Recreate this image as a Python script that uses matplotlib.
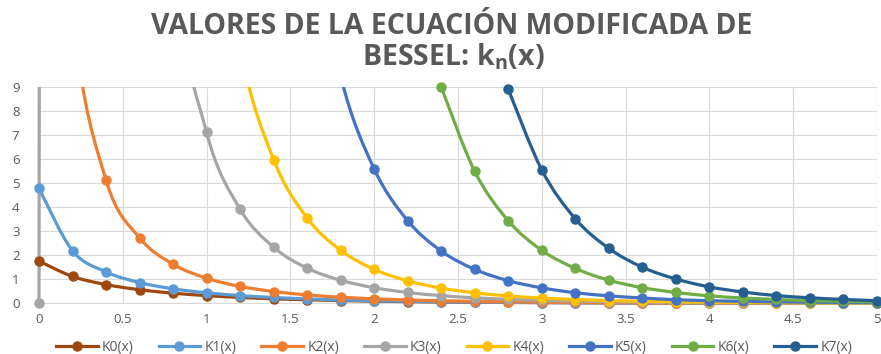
import matplotlib
matplotlib.use("Agg")
import matplotlib.pyplot as plt
import numpy as np
from matplotlib.path import Path
from matplotlib.patches import PathPatch, Rectangle
from matplotlib.lines import Line2D

plt.rcParams['font.family'] = ['Open Sans', 'DejaVu Sans']
plt.rcParams['mathtext.fontset'] = 'custom'
plt.rcParams['mathtext.rm'] = 'Open Sans:bold'
plt.rcParams['mathtext.it'] = 'Open Sans:bold'

nan = np.nan
x = [0, 0.2, 0.4, 0.6, 0.8, 1.0, 1.2, 1.4, 1.6, 1.8, 2.0, 2.2, 2.4,
     2.6, 2.8, 3.0, 3.2, 3.4, 3.6, 3.8, 4.0, 4.2, 4.4, 4.6, 4.8, 5.0]

k0 = [1.753, 1.115, 0.778, 0.565, 0.421, 0.319, 0.244, 0.188, 0.146, 0.114, 0.089, 0.070, 0.055,
      0.044, 0.035, 0.028, 0.022, 0.018, 0.014, 0.011, 0.009, 0.007, 0.006, 0.005, 0.004, 0.003]
k1 = [4.776, 2.184, 1.303, 0.862, 0.602, 0.435, 0.321, 0.241, 0.183, 0.140, 0.108, 0.084, 0.065,
      0.051, 0.040, 0.032, 0.025, 0.020, 0.016, 0.012, 0.010, 0.008, 0.006, 0.005, 0.004, 0.003]
k2 = [30.0, 12.04, 5.12, 2.72, 1.625, 1.043, 0.702, 0.489, 0.349, 0.254, 0.187, 0.140, 0.106,
      0.080, 0.062, 0.047, 0.037, 0.029, 0.022, 0.017, 0.014, 0.011, 0.0085, 0.0067, 0.0053, 0.0042]
k3 = [0, 995, 122.6, 35.4, 14.46, 7.10, 3.91, 2.33, 1.46, 0.958, 0.647, 0.449, 0.317,
      0.228, 0.166, 0.122, 0.091, 0.068, 0.052, 0.039, 0.030, 0.023, 0.018, 0.014, 0.011, 0.008]
k4 = [nan, nan, nan, nan, 44.2, 20.6, 10.67, 5.97, 3.54, 2.20, 1.41, 0.933, 0.631,
      0.436, 0.306, 0.218, 0.157, 0.114, 0.084, 0.062, 0.047, 0.035, 0.026, 0.020, 0.015, 0.012]
k5 = [nan, nan, nan, nan, nan, nan, nan, 31.3, 16.7, 9.43, 5.58, 3.43, 2.17,
      1.41, 0.94, 0.64, 0.44, 0.31, 0.22, 0.15, 0.11, 0.081, 0.060, 0.044, 0.033, 0.025]
k6 = [nan, nan, nan, nan, nan, nan, nan, nan, nan, nan, nan, nan, 8.98,
      5.48, 3.43, 2.20, 1.45, 0.96, 0.65, 0.45, 0.31, 0.22, 0.16, 0.11, 0.081, 0.059]
k7 = [nan, nan, nan, nan, nan, nan, nan, nan, nan, nan, nan, nan, nan,
      nan, 8.89, 5.54, 3.51, 2.28, 1.50, 1.01, 0.68, 0.47, 0.32, 0.23, 0.16, 0.11]

series = [k0, k1, k2, k3, k4, k5, k6, k7]
labels = ['K0(x)', 'K1(x)', 'K2(x)', 'K3(x)', 'K4(x)', 'K5(x)', 'K6(x)', 'K7(x)']
colors = ['#9E480E', '#5B9BD5', '#ED7D31', '#A5A5A5', '#FFC000', '#4472C4', '#70AD47', '#255E91']


def smooth_path(xs, ys):
    # bezier through the points, like the smoothed line of a spreadsheet
    p = np.column_stack([xs, ys])
    n = len(p)
    verts = [p[0]]
    codes = [Path.MOVETO]
    for i in range(n - 1):
        p0 = p[max(i - 1, 0)]
        p1 = p[i]
        p2 = p[i + 1]
        p3 = p[min(i + 2, n - 1)]
        verts += [p1 + (p2 - p0) / 6, p2 - (p3 - p1) / 6, p2]
        codes += [Path.CURVE4] * 3
    return Path(verts, codes)


fig = plt.figure(figsize=(8.81, 3.54), dpi=100)
ax = fig.add_axes([39 / 881, 1 - 303.3 / 354, 838 / 881, (303.3 - 86.7) / 354])
ax.set_xlim(0, 5)
ax.set_ylim(0, 9)

clip = Rectangle((-0.02, -0.04), 1.04, 1.04, transform=ax.transAxes)

xa = np.array(x)
for ys, c, lab in zip(series, colors, labels):
    ya = np.array(ys, dtype=float)
    ok = ~np.isnan(ya)
    patch = PathPatch(smooth_path(xa[ok], ya[ok]), facecolor='none', edgecolor=c,
                      lw=2.3, capstyle='round', joinstyle='round', zorder=3)
    ax.add_patch(patch)
    patch.set_clip_path(clip)
    vis = ok & (ya <= 9)
    ax.plot(xa[vis], ya[vis], 'o', color=c, ms=6.5, clip_on=False, zorder=4)

ax.set_xticks(np.arange(0, 5.01, 0.5))
ax.set_xticklabels(['0', '0.5', '1', '1.5', '2', '2.5', '3', '3.5', '4', '4.5', '5'])
ax.set_yticks(range(0, 10))
ax.grid(True, color='#D9D9D9', lw=0.8)
ax.set_axisbelow(True)
for s in ['top', 'right', 'left']:
    ax.spines[s].set_visible(False)
ax.spines['bottom'].set_color('#D9D9D9')
ax.tick_params(length=0, colors='#595959', labelsize=9.5)
ax.tick_params(axis='x', pad=7)
ax.tick_params(axis='y', pad=14)

fig.text(452 / 881, 1 - 26 / 354, 'VALORES DE LA ECUACIÓN MODIFICADA DE', ha='center', va='center',
         fontsize=20.5, fontweight='bold', color='#595959')
fig.text(453 / 881, 1 - 57 / 354, r'BESSEL: k$_\mathrm{n}$(x)', ha='center', va='center',
         fontsize=20.5, fontweight='bold', color='#595959')

handles = [Line2D([], [], color=c, lw=2.3, marker='o', ms=6.5) for c in colors]
fig.legend(handles, labels, loc='center', bbox_to_anchor=(454 / 881, 1 - 347 / 354), ncol=8,
           frameon=False, fontsize=10, labelcolor='#595959', handlelength=3.0,
           columnspacing=1.8, handletextpad=0.3)

fig.savefig('out.png', dpi=100)
